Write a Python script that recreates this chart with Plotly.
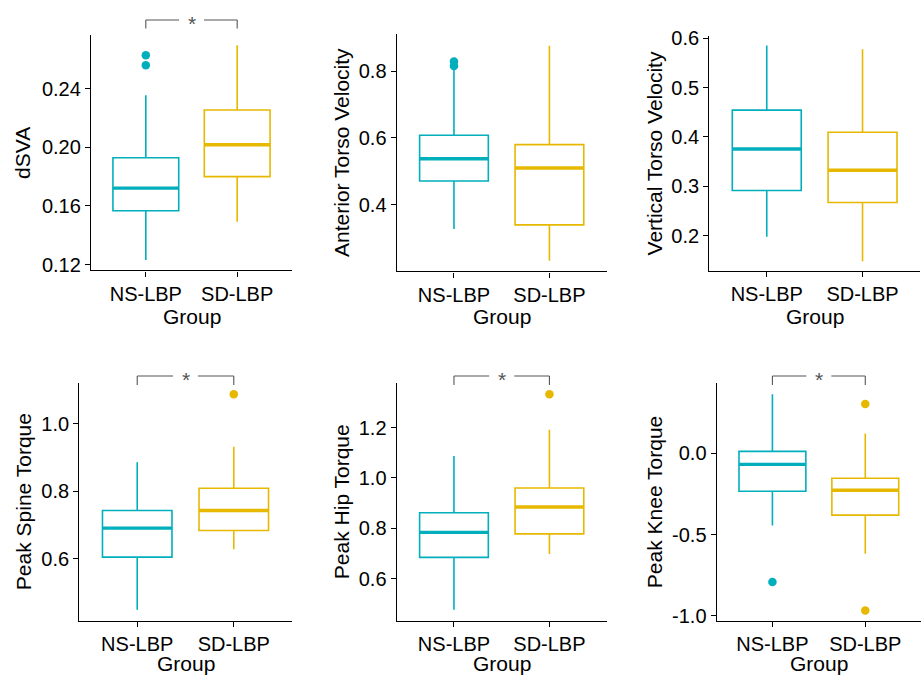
import plotly.graph_objects as go

# ---------------- data ----------------
measures = ["dSVA", "Anterior Torso Velocity", "Vertical Torso Velocity",
            "Peak Spine Torque", "Peak Hip Torque", "Peak Knee Torque"]
groups = ["NS-LBP", "SD-LBP"]

ns_lower = [0.1231, 0.327, 0.198, 0.449, 0.477, -0.444]
ns_q1 = [0.1567, 0.471, 0.2914, 0.605, 0.685, -0.233]
ns_median = [0.1722, 0.5375, 0.3755, 0.691, 0.784, -0.068]
ns_q3 = [0.1929, 0.608, 0.4543, 0.743, 0.862, 0.012]
ns_upper = [0.2355, 0.804, 0.5854, 0.886, 1.087, 0.363]
ns_outliers = [[0.2627, 0.256], [0.829, 0.8155], [], [], [], [-0.791]]

sd_lower = [0.1493, 0.232, 0.148, 0.628, 0.698, -0.618]
sd_q1 = [0.180, 0.3395, 0.267, 0.684, 0.778, -0.38]
sd_median = [0.2018, 0.510, 0.3325, 0.743, 0.885, -0.227]
sd_q3 = [0.2255, 0.580, 0.4093, 0.809, 0.960, -0.153]
sd_upper = [0.2696, 0.876, 0.5775, 0.932, 1.191, 0.122]
sd_outliers = [[], [], [], [1.088], [1.332], [0.303, -0.966]]

significant = [True, False, False, True, True, True]

tick_values = [[0.12, 0.16, 0.20, 0.24], [0.4, 0.6, 0.8], [0.2, 0.3, 0.4, 0.5, 0.6],
               [0.6, 0.8, 1.0], [0.6, 0.8, 1.0, 1.2], [-1.0, -0.5, 0.0]]
tick_labels = [["0.12", "0.16", "0.20", "0.24"], ["0.4", "0.6", "0.8"],
               ["0.2", "0.3", "0.4", "0.5", "0.6"], ["0.6", "0.8", "1.0"],
               ["0.6", "0.8", "1.0", "1.2"], ["-1.0", "-0.5", "0.0"]]

# ---------------- layout config ----------------
W, H = 923, 682
y_ranges = [[0.116, 0.2763], [0.2, 0.91], [0.128, 0.605],
            [0.416, 1.120], [0.433, 1.375], [-1.03, 0.43]]
# panel boxes in pixels: left, right, top, bottom
panels_px = [(91, 292, 28, 268), (396.7, 606.7, 27, 269), (709.3, 920, 28.3, 268.7),
             (79.3, 291.7, 383.3, 625.7), (396.7, 606.7, 383.3, 625.7), (716.7, 921, 383.3, 625.7)]
ytitle_x_px = [23, 342, 654, 23, 341, 654]
xtitle_y_px = [315, 315, 315, 669, 669, 669]
bracket_line_px = [15.7, 0, 0, 7.6, 7.6, 7.6]   # px above panel top
bracket_tick_px = [7.0, 0, 0, -1.7, -1.7, -1.7]

COL_NS = "#00AFBB"
COL_SD = "#E7B800"
FONT = "Liberation Sans, Arial, sans-serif"
X_RANGE = [-0.6, 1.6]
BOX_W = 0.72

fig = go.Figure()
layout = dict(width=W, height=H, margin=dict(l=0, r=0, t=0, b=0),
              paper_bgcolor="white", plot_bgcolor="white", showlegend=False,
              font=dict(family=FONT, size=20, color="black"))
shapes, annotations = [], []

for i, m in enumerate(measures):
    n = i + 1
    xa = "x" if n == 1 else f"x{n}"
    ya = "y" if n == 1 else f"y{n}"
    L, R, T, B = panels_px[i]
    stats = [(0, COL_NS, ns_lower[i], ns_q1[i], ns_median[i], ns_q3[i], ns_upper[i], ns_outliers[i]),
             (1, COL_SD, sd_lower[i], sd_q1[i], sd_median[i], sd_q3[i], sd_upper[i], sd_outliers[i])]
    for (xi, col, lo, q1, med, q3, hi, outs) in stats:
        fig.add_trace(go.Box(x=[xi], q1=[q1], median=[med], q3=[q3], lowerfence=[lo], upperfence=[hi],
                             width=BOX_W, whiskerwidth=0, fillcolor="rgba(0,0,0,0)",
                             line=dict(color=col, width=1.6), boxpoints=False,
                             xaxis=xa, yaxis=ya, hoverinfo="skip"))
        fig.add_trace(go.Scatter(x=[xi - BOX_W / 2, xi + BOX_W / 2], y=[med, med], mode="lines",
                                 line=dict(color=col, width=3.4), xaxis=xa, yaxis=ya, hoverinfo="skip"))
        if outs:
            fig.add_trace(go.Scatter(x=[xi] * len(outs), y=outs, mode="markers",
                                     marker=dict(color=col, size=8.5), xaxis=xa, yaxis=ya,
                                     hoverinfo="skip", cliponaxis=False))
    xdom = [L / W, R / W]
    ydom = [1 - B / H, 1 - T / H]
    axis_common = dict(showline=True, linecolor="black", linewidth=1.3, ticks="outside",
                       ticklen=5, tickwidth=1.3, tickcolor="black", showgrid=False, zeroline=False,
                       tickfont=dict(family=FONT, size=20, color="black"))
    layout["xaxis" if n == 1 else f"xaxis{n}"] = dict(
        domain=xdom, anchor=ya, range=X_RANGE, tickvals=[0, 1], ticktext=groups, **axis_common)
    layout["yaxis" if n == 1 else f"yaxis{n}"] = dict(
        domain=ydom, anchor=xa, range=y_ranges[i], tickvals=tick_values[i],
        ticktext=tick_labels[i], **axis_common)

    # axis titles
    annotations.append(dict(text=m, x=ytitle_x_px[i] / W, y=1 - (T + B) / 2 / H, xref="paper",
                            yref="paper", textangle=-90, showarrow=False, xanchor="center",
                            yanchor="middle", font=dict(family=FONT, size=21, color="black")))
    annotations.append(dict(text="Group", x=(L + R) / 2 / W, y=1 - xtitle_y_px[i] / H, xref="paper",
                            yref="paper", showarrow=False, xanchor="center", yanchor="middle",
                            font=dict(family=FONT, size=21, color="black")))

    # significance bracket
    if significant[i]:
        ph = B - T
        pw = R - L
        fx0 = (0 - X_RANGE[0]) / (X_RANGE[1] - X_RANGE[0])
        fx1 = (1 - X_RANGE[0]) / (X_RANGE[1] - X_RANGE[0])
        fmid = (fx0 + fx1) / 2
        gap = 12.5 / pw
        yl = 1 + bracket_line_px[i] / ph
        yt = 1 + bracket_tick_px[i] / ph
        xr, yr = f"{xa} domain", f"{ya} domain"
        seg = dict(type="line", xref=xr, yref=yr, line=dict(color="#555555", width=1.1))
        shapes += [dict(seg, x0=fx0, x1=fmid - gap, y0=yl, y1=yl),
                   dict(seg, x0=fmid + gap, x1=fx1, y0=yl, y1=yl),
                   dict(seg, x0=fx0, x1=fx0, y0=yl, y1=yt),
                   dict(seg, x0=fx1, x1=fx1, y0=yl, y1=yt)]
        annotations.append(dict(text="*", x=fmid, y=yl - 4 / ph, xref=xr, yref=yr, showarrow=False,
                                xanchor="center", yanchor="middle",
                                font=dict(family=FONT, size=21, color="#555555")))

layout["shapes"] = shapes
layout["annotations"] = annotations
fig.update_layout(**layout)
fig.write_html("out.html", config={"displayModeBar": False},
               post_script="document.body.style.margin='0';document.body.style.overflow='hidden';")
